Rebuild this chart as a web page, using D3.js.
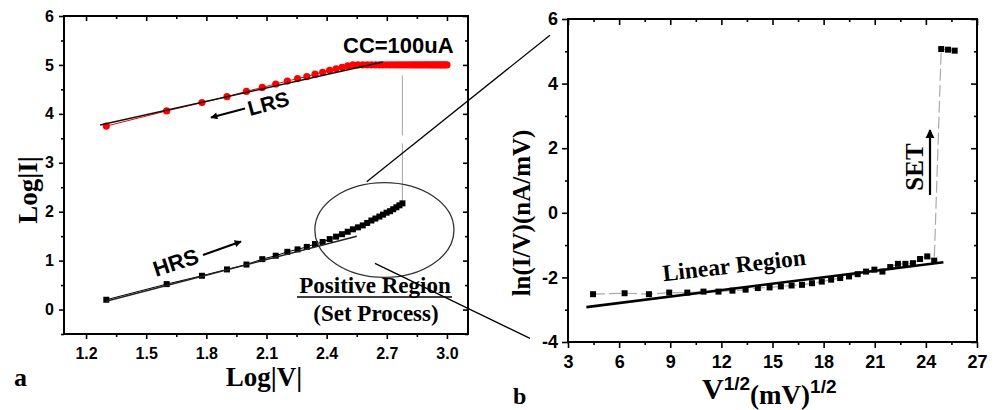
<!DOCTYPE html>
<html>
<head>
<meta charset="utf-8">
<script src="https://cdn.jsdelivr.net/npm/d3@7"></script>
<style>
body { margin: 0; background: #fff; }
svg { display: block; }
.sans { font-family: "Liberation Sans", Arial, sans-serif; font-weight: bold; }
.serif { font-family: "Liberation Serif", "Times New Roman", serif; font-weight: bold; }
</style>
</head>
<body>
<svg id="chart" width="997" height="410"></svg>
<script>
// ---- data ----
// panel a : log|V| sweep points (V in mV)
const logV = [1.301, 1.602, 1.778, 1.903, 2.000, 2.079, 2.146, 2.204, 2.255, 2.301,
              2.342, 2.380, 2.415, 2.447, 2.477, 2.505, 2.531, 2.556, 2.580, 2.602,
              2.623, 2.643, 2.663, 2.681, 2.699, 2.716, 2.732, 2.748, 2.763, 2.778,
              2.792, 2.806, 2.820, 2.833, 2.845, 2.857, 2.869, 2.881, 2.892, 2.903,
              2.914, 2.924, 2.934, 2.944, 2.954, 2.964, 2.973, 2.982, 2.991, 3.000];
const lrsLogI = [3.75, 4.06, 4.23, 4.35, 4.46, 4.54, 4.61, 4.67, 4.72, 4.76,
                 4.81, 4.85, 4.89, 4.92, 4.95, 4.98, 5.00, 5.00, 5.00, 5.00,
                 5.00, 5.00, 5.00, 5.00, 5.00, 5.00, 5.00, 5.00, 5.00, 5.00,
                 5.00, 5.00, 5.00, 5.00, 5.00, 5.00, 5.00, 5.00, 5.00, 5.00,
                 5.00, 5.00, 5.00, 5.00, 5.00, 5.00, 5.00, 5.00, 5.00, 5.00];
const hrsLogI = [0.20, 0.52, 0.69, 0.82, 0.92, 1.03, 1.10, 1.18, 1.23, 1.28,
                 1.34, 1.38, 1.44, 1.49, 1.54, 1.59, 1.64, 1.68, 1.72, 1.77,
                 1.82, 1.86, 1.90, 1.94, 1.98, 2.01, 2.05, 2.09, 2.13, 2.17];
const lrsFit = [[1.27, 3.77], [2.68, 5.06]];
const hrsFit = [[1.30, 0.17], [2.55, 1.50]];

// panel b : sqrt(V) vs ln(I/V)
const sqrtV = [4.47, 6.32, 7.75, 8.94, 10.00, 10.95, 11.83, 12.65, 13.42, 14.14,
               14.83, 15.49, 16.12, 16.73, 17.32, 17.89, 18.44, 18.97, 19.49, 20.00,
               20.49, 20.98, 21.45, 21.91, 22.36, 22.80, 23.24, 23.66, 24.08, 24.49,
               24.90, 25.30, 25.69];
const lnIV = [-2.52, -2.49, -2.52, -2.47, -2.47, -2.44, -2.44, -2.41, -2.38, -2.33,
              -2.31, -2.28, -2.25, -2.23, -2.18, -2.13, -2.07, -2.02, -1.97, -1.90,
              -1.82, -1.76, -1.82, -1.68, -1.58, -1.58, -1.56, -1.43, -1.35, -1.48,
              5.07, 5.05, 5.02];
const linFit = [[4.08, -2.92], [25.03, -1.53]];

// tick values
const aXMajor = [1.2, 1.5, 1.8, 2.1, 2.4, 2.7, 3.0];
const aXMinor = [1.35, 1.65, 1.95, 2.25, 2.55, 2.85];
const aYMajor = [0, 1, 2, 3, 4, 5, 6];
const aYMinor = [-0.5, 0.5, 1.5, 2.5, 3.5, 4.5, 5.5];
const bXMajor = [3, 6, 9, 12, 15, 18, 21, 24, 27];
const bXMinor = [4.5, 7.5, 10.5, 13.5, 16.5, 19.5, 22.5, 25.5];
const bYMajor = [-4, -2, 0, 2, 4, 6];
const bYMinor = [-3, -1, 1, 3, 5];

const svg = d3.select("#chart");

svg.append("defs").selectAll("marker")
    .data(["small", "big"])
    .join("marker")
    .attr("id", d => "arr-" + d)
    .attr("viewBox", "0 0 10 10")
    .attr("refX", 9).attr("refY", 5)
    .attr("markerUnits", "userSpaceOnUse")
    .attr("markerWidth", d => d == "big" ? 9 : 8)
    .attr("markerHeight", d => d == "big" ? 12 : 7)
    .attr("orient", "auto")
    .append("path")
    .attr("d", "M0,0 L10,5 L0,10 Z")
    .attr("fill", "#000");

//Draws the boxed frame with in/out ticks like the origin plot
function drawFrame(x, y, o)
{
    let x0 = x.range()[0], x1 = x.range()[1];
    let y0 = y.range()[0], y1 = y.range()[1];
    let g = svg.append("g");

    let put = (axis, tx, ty, labels) =>
    {
        let a = g.append("g").attr("transform", `translate(${tx},${ty})`).call(axis);
        a.select(".domain").remove();
        a.selectAll("line").attr("stroke", "#000").attr("stroke-width", 1.6);
        a.selectAll("text").attr("class", "sans").attr("font-size", o.fs).attr("fill", "#000");
        if (!labels) a.selectAll("text").remove();
        return a;
    };

    // bottom (outward) + top (inward)
    put(d3.axisBottom(x).tickValues(o.xMajor).tickSize(o.tk).tickPadding(o.xpad).tickFormat(o.xFmt), 0, y0, true);
    put(d3.axisBottom(x).tickValues(o.xMinor).tickSize(3), 0, y0, false);
    put(d3.axisBottom(x).tickValues(o.xMajor).tickSize(o.tk), 0, y1, false);
    put(d3.axisBottom(x).tickValues(o.xMinor).tickSize(3), 0, y1, false);
    // left (outward) + right (inward)
    let ya = put(d3.axisLeft(y).tickValues(o.yMajor).tickSize(o.tk).tickPadding(o.ypad).tickFormat(d3.format("d")), x0, 0, true);
    ya.selectAll("text").text(d => d < 0 ? "-" + Math.abs(d) : d);
    put(d3.axisLeft(y).tickValues(o.yMinor).tickSize(3), x0, 0, false);
    put(d3.axisLeft(y).tickValues(o.yMajor).tickSize(o.tk), x1, 0, false);
    put(d3.axisLeft(y).tickValues(o.yMinor).tickSize(3), x1, 0, false);

    g.append("rect")
        .attr("x", x0).attr("y", y1)
        .attr("width", x1 - x0).attr("height", y0 - y1)
        .attr("fill", "none").attr("stroke", "#000").attr("stroke-width", 2);
}

let line = (x, y) => d3.line().x(d => x(d[0])).y(d => y(d[1]));

///////
// Panel a
let xA = d3.scaleLinear().domain([1.09, 3.105]).range([64, 468]);
let yA = d3.scaleLinear().domain([-0.5, 6]).range([334, 16]);

drawFrame(xA, yA, {xMajor: aXMajor, xMinor: aXMinor, yMajor: aYMajor, yMinor: aYMinor,
    xFmt: d3.format(".1f"), fs: 16, tk: 5, xpad: 9, ypad: 5});

let lrs = logV.map((v, i) => [v, lrsLogI[i]]);
let hrs = hrsLogI.map((v, i) => [logV[i], v]);

// jump from HRS to LRS
svg.append("path")
    .attr("d", line(xA, yA)([hrs[hrs.length - 1], lrs[hrs.length - 1]]))
    .attr("stroke", "#b0b0b0").attr("stroke-width", 1.2)
    .attr("stroke-dasharray", "60,8").attr("fill", "none");

svg.append("path").attr("d", line(xA, yA)(lrs))
    .attr("stroke", "#f00").attr("stroke-width", 1).attr("fill", "none");
svg.append("path").attr("d", line(xA, yA)(hrs))
    .attr("stroke", "#000").attr("stroke-width", 1).attr("fill", "none");

svg.append("g").selectAll("circle").data(lrs).join("circle")
    .attr("cx", d => xA(d[0])).attr("cy", d => yA(d[1]))
    .attr("r", 3.6).attr("fill", "#f00");
svg.append("g").selectAll("rect").data(hrs).join("rect")
    .attr("x", d => xA(d[0]) - 3).attr("y", d => yA(d[1]) - 3)
    .attr("width", 6).attr("height", 6).attr("fill", "#000");

svg.append("path").attr("d", line(xA, yA)(lrsFit))
    .attr("stroke", "#111").attr("stroke-width", 1.5).attr("fill", "none");
svg.append("path").attr("d", line(xA, yA)(hrsFit))
    .attr("stroke", "#222").attr("stroke-width", 1.5).attr("fill", "none");

// ellipse around the set region
svg.append("ellipse")
    .attr("cx", xA(2.688)).attr("cy", yA(1.626))
    .attr("rx", xA(2.688 + 0.347) - xA(2.688)).attr("ry", yA(1.626) - yA(1.626 + 0.97))
    .attr("fill", "none").attr("stroke", "#333").attr("stroke-width", 1.3);

// annotations panel a
svg.append("text").attr("class", "sans").attr("font-size", 22)
    .attr("x", 343).attr("y", 53).text("CC=100uA");

svg.append("text").attr("class", "sans").attr("font-size", 21)
    .attr("transform", "translate(250,116) rotate(-15)").text("LRS");
svg.append("line").attr("x1", 245).attr("y1", 108.5).attr("x2", 211).attr("y2", 117.5)
    .attr("stroke", "#000").attr("stroke-width", 2).attr("marker-end", "url(#arr-small)");

svg.append("text").attr("class", "sans").attr("font-size", 22)
    .attr("transform", "translate(156,277) rotate(-18)").text("HRS");
svg.append("line").attr("x1", 203).attr("y1", 255).attr("x2", 241).attr("y2", 241.5)
    .attr("stroke", "#000").attr("stroke-width", 2).attr("marker-end", "url(#arr-small)");

svg.append("text").attr("class", "serif").attr("font-size", 23)
    .attr("x", 375).attr("y", 293).attr("text-anchor", "middle").text("Positive Region");
svg.append("line").attr("x1", 297).attr("x2", 452).attr("y1", 297).attr("y2", 297)
    .attr("stroke", "#000").attr("stroke-width", 1.6);
svg.append("text").attr("class", "serif").attr("font-size", 23)
    .attr("x", 376).attr("y", 321).attr("text-anchor", "middle").text("(Set Process)");

svg.append("text").attr("class", "serif").attr("font-size", 27)
    .attr("x", 264).attr("y", 386).attr("text-anchor", "middle").text("Log|V|");
svg.append("text").attr("class", "serif").attr("font-size", 27)
    .attr("transform", "translate(37,190) rotate(-90)").attr("text-anchor", "middle").text("Log|I|");
svg.append("text").attr("class", "serif").attr("font-size", 26)
    .attr("x", 14).attr("y", 386).text("a");

///////
// Panel b
let xB = d3.scaleLinear().domain([3, 27]).range([568, 977]);
let yB = d3.scaleLinear().domain([-4, 6]).range([342, 19]);

// zoom lines from the ellipse to panel b
svg.append("line")
    .attr("x1", xA(2.60)).attr("y1", yA(2.61))
    .attr("x2", xB(1.94)).attr("y2", yB(5.50))
    .attr("stroke", "#000").attr("stroke-width", 1.3);
svg.append("line")
    .attr("x1", xA(2.641)).attr("y1", yA(0.945))
    .attr("x2", xB(0.77)).attr("y2", yB(-3.89))
    .attr("stroke", "#000").attr("stroke-width", 1.3);

drawFrame(xB, yB, {xMajor: bXMajor, xMinor: bXMinor, yMajor: bYMajor, yMinor: bYMinor,
    xFmt: d3.format("d"), fs: 18, tk: 6, xpad: 7, ypad: 4});

let pts = sqrtV.map((v, i) => [v, lnIV[i]]);

svg.append("path").attr("d", line(xB, yB)(pts))
    .attr("stroke", "#aaa").attr("stroke-width", 1.2)
    .attr("stroke-dasharray", "12,4").attr("fill", "none");
svg.append("path").attr("d", line(xB, yB)(linFit))
    .attr("stroke", "#000").attr("stroke-width", 2.6).attr("fill", "none");
svg.append("g").selectAll("rect").data(pts).join("rect")
    .attr("x", d => xB(d[0]) - 3).attr("y", d => yB(d[1]) - 3)
    .attr("width", 6).attr("height", 6).attr("fill", "#000");

svg.append("text").attr("class", "serif").attr("font-size", 23.5)
    .attr("transform", "translate(735,273) rotate(-6.5)").attr("text-anchor", "middle").text("Linear Region");

svg.append("text").attr("class", "serif").attr("font-size", 25)
    .attr("transform", "translate(923,167) rotate(-90)").attr("text-anchor", "middle").text("SET");
svg.append("line").attr("x1", 930).attr("y1", 195).attr("x2", 930).attr("y2", 130)
    .attr("stroke", "#000").attr("stroke-width", 2.2).attr("marker-end", "url(#arr-big)");

svg.append("text").attr("class", "serif").attr("font-size", 25)
    .attr("transform", "translate(530,213) rotate(-90)").attr("text-anchor", "middle").text("ln(I/V)(nA/mV)");

let xl = svg.append("text").attr("class", "serif").attr("x", 702).attr("y", 399);
xl.append("tspan").attr("font-size", 30).text("V");
xl.append("tspan").attr("class", "sans").attr("font-size", 19).attr("dy", -9).text("1/2");
xl.append("tspan").attr("font-size", 27).attr("dy", 14).text("(mV)");
xl.append("tspan").attr("class", "sans").attr("font-size", 19).attr("dy", -11).text("1/2");

svg.append("text").attr("class", "serif").attr("font-size", 24)
    .attr("x", 513).attr("y", 404).text("b");
</script>
</body>
</html>
